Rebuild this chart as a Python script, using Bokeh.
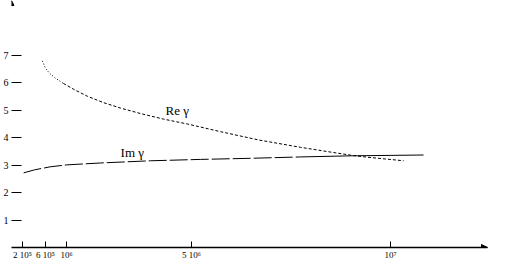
import numpy as np
from bokeh.plotting import figure
from bokeh.models import FixedTicker, Label, Arrow, NormalHead, Range1d
from bokeh.embed import file_html
from bokeh.resources import INLINE

# ---- data ----
re_freq = [5.45e5, 6.0e5, 6.76e5, 7.9e5, 9.4e5, 1.22e6, 1.67e6, 2.18e6, 2.73e6,
           3.37e6, 4.10e6, 4.87e6, 5.73e6, 6.68e6, 7.74e6, 8.57e6, 9.07e6, 9.42e6, 1.033e7]
re_gamma = [6.80, 6.53, 6.35, 6.17, 5.98, 5.77, 5.51, 5.28, 5.08,
            4.88, 4.68, 4.50, 4.22, 3.92, 3.65, 3.46, 3.35, 3.29, 3.16]

im_freq = [2.2e5, 4.1e5, 6.9e5, 1.0e6, 2.09e6, 3.69e6, 5.23e6, 6.48e6, 7.74e6, 9.0e6, 1.083e7]
im_gamma = [2.72, 2.83, 2.94, 3.01, 3.08, 3.16, 3.21, 3.25, 3.30, 3.34, 3.37]

tick_freqs = [2e5, 6e5, 1e6, 5e6, 1e7]
tick_labels = ["2 10\u2075", "6 10\u2075", "10\u2076", "5 10\u2076", "10\u2077"]
y_ticks = [1, 2, 3, 4, 5, 6, 7]

# non-uniform frequency scale of the original drawing (frequency -> scale units)
scale_freq = [0, 2e5, 6e5, 1e6, 5e6, 1e7, 1.25e7]
scale_unit = [0, 11, 34, 55, 180, 379, 478.5]


def warp(f):
    return np.interp(np.asarray(f, dtype=float), scale_freq, scale_unit)


FONT = "Liberation Serif"

p = figure(width=514, height=262, output_backend="svg", toolbar_location=None,
           x_range=Range1d(0, 476), y_range=Range1d(0, 9),
           min_border_left=11, min_border_right=27, min_border_top=0, min_border_bottom=14)
p.outline_line_color = None
p.xgrid.visible = False
p.ygrid.visible = False
p.background_fill_color = "white"
p.border_fill_color = "white"

# x axis
xa = p.xaxis[0]
xa.ticker = FixedTicker(ticks=list(warp(tick_freqs)))
xa.major_label_overrides = {float(u): lab for u, lab in zip(warp(tick_freqs), tick_labels)}
xa.major_tick_in = 6
xa.major_tick_out = 0
xa.minor_tick_line_color = None
xa.axis_line_color = "black"
xa.axis_line_width = 1.3
xa.major_tick_line_color = "black"
xa.major_label_standoff = 2
xa.major_label_text_font = FONT
xa.major_label_text_font_size = "9px"
xa.major_label_text_color = "black"

# y axis
ya = p.yaxis[0]
ya.ticker = FixedTicker(ticks=y_ticks)
ya.axis_line_color = None
ya.major_tick_in = 10
ya.major_tick_out = 0
ya.minor_tick_line_color = None
ya.major_tick_line_color = "black"
ya.major_label_standoff = 3
ya.major_label_text_font = FONT
ya.major_label_text_font_size = "10px"
ya.major_label_text_color = "black"

# curves
rx = warp(re_freq)
ix = warp(im_freq)
split_re = 4
p.line(rx[:split_re + 1], re_gamma[:split_re + 1], line_color="black", line_width=1.0, line_dash="1 2")
p.line(rx[split_re:], re_gamma[split_re:], line_color="black", line_width=1.0, line_dash="3 2")
split_im = 8
p.line(ix[:split_im + 1], im_gamma[:split_im + 1], line_color="black", line_width=1.0, line_dash="18 3")
p.line(ix[split_im:], im_gamma[split_im:], line_color="black", line_width=1.0)

# labels
p.add_layout(Label(x=float(warp(4.17e6)), y=4.72, text="Re \u03b3", text_font=FONT,
                   text_font_size="13px", text_color="black", text_baseline="bottom"))
p.add_layout(Label(x=float(warp(2.73e6)), y=3.19, text="Im \u03b3", text_font=FONT,
                   text_font_size="13px", text_color="black", text_baseline="bottom"))
p.add_layout(Label(x=476, y=0, text="f, \u0413\u0446", text_font=FONT, text_font_size="12px",
                   text_color="black", text_baseline="middle", x_offset=0, y_offset=-3))

# axis arrow heads
p.add_layout(Arrow(x_start=468, y_start=0, x_end=476, y_end=0, line_color="black",
                   end=NormalHead(size=6, fill_color="black", line_color="black")))
p.add_layout(Arrow(x_start=0, y_start=8.8, x_end=0, y_end=9.0, line_color=None,
                   end=NormalHead(size=5, fill_color="black", line_color="black")))

open("out.html", "w").write(file_html(p, INLINE))
